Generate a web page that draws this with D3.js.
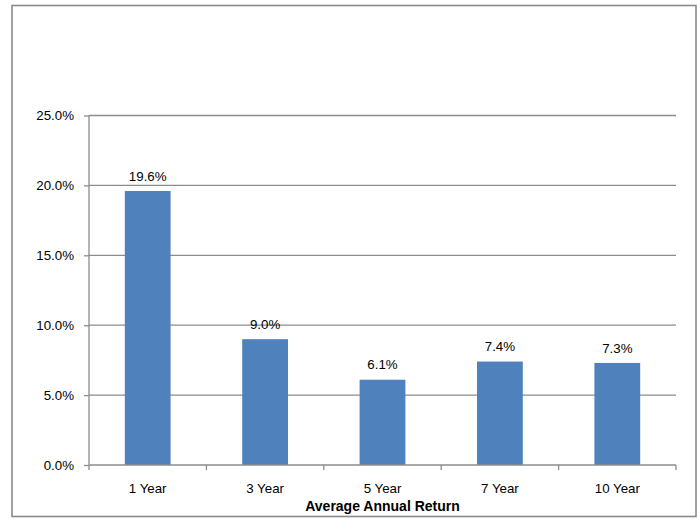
<!DOCTYPE html>
<html>
<head>
<meta charset="utf-8">
<script src="https://cdn.jsdelivr.net/npm/d3@7"></script>
<style>
  body { margin: 0; background: #fff; }
  svg text { font-family: "Liberation Sans", Arial, sans-serif; fill: #000; }
</style>
</head>
<body>
<div id="chart"></div>
<script>
// Chart data
const categories = ['1 Year', '3 Year', '5 Year', '7 Year', '10 Year'];
const returns = [19.6, 9.0, 6.1, 7.4, 7.3];
const yTicks = [0, 5, 10, 15, 20, 25];
const xTitle = 'Average Annual Return';

const width = 700;
const height = 519;
const plot = { left: 89, right: 676, top: 115.5, bottom: 465 };

const svg = d3.select('#chart')
  .append('svg')
  .attr('width', width)
  .attr('height', height);

// Outer border
svg.append('rect')
  .attr('x', 12)
  .attr('y', 5.5)
  .attr('width', 684)
  .attr('height', 511)
  .attr('fill', '#fff')
  .attr('stroke', '#8a8a8a')
  .attr('stroke-width', 1.6);

const x = d3.scaleBand()
  .domain(categories)
  .range([plot.left, plot.right])
  .paddingInner(0.61)
  .paddingOuter(0.305);

const y = d3.scaleLinear()
  .domain([0, 25])
  .range([plot.bottom, plot.top]);

// Gridlines
svg.append('g')
  .selectAll('line')
  .data(yTicks.filter(d => d > 0))
  .enter()
  .append('line')
  .attr('x1', plot.left)
  .attr('x2', plot.right)
  .attr('y1', d => y(d))
  .attr('y2', d => y(d))
  .attr('stroke', '#8c8c8c')
  .attr('stroke-width', 1.3);

// Bars
svg.append('g')
  .selectAll('rect')
  .data(returns)
  .enter()
  .append('rect')
  .attr('x', (d, i) => x(categories[i]))
  .attr('y', d => y(d))
  .attr('width', x.bandwidth())
  .attr('height', d => y(0) - y(d))
  .attr('fill', '#4f81bd');

// Value labels
svg.append('g')
  .selectAll('text')
  .data(returns)
  .enter()
  .append('text')
  .attr('x', (d, i) => x(categories[i]) + x.bandwidth() / 2)
  .attr('y', d => y(d) - 15)
  .attr('dy', '0.35em')
  .attr('text-anchor', 'middle')
  .style('font-size', '13.3px')
  .text(d => d.toFixed(1) + '%');

// Y axis
const yAxis = svg.append('g')
  .attr('transform', `translate(${plot.left},0)`)
  .call(d3.axisLeft(y).tickValues(yTicks).tickSize(5).tickPadding(10)
    .tickFormat(d => d.toFixed(1) + '%'));
yAxis.selectAll('line, path').attr('stroke', '#8c8c8c').attr('stroke-width', 1.3);
yAxis.select('.domain').attr('d', `M0,${plot.top}V${plot.bottom}`);
yAxis.selectAll('text').style('font-size', '13.3px').style('font-family', null).attr('fill', '#000');

// X axis with ticks at category boundaries
const xAxis = svg.append('g')
  .attr('transform', `translate(0,${plot.bottom})`);
xAxis.append('line')
  .attr('x1', plot.left)
  .attr('x2', plot.right)
  .attr('stroke', '#8c8c8c')
  .attr('stroke-width', 1.3);
const step = x.step();
xAxis.selectAll('.bound')
  .data(d3.range(categories.length + 1))
  .enter()
  .append('line')
  .attr('class', 'bound')
  .attr('x1', i => plot.left + i * step)
  .attr('x2', i => plot.left + i * step)
  .attr('y1', 0)
  .attr('y2', 5)
  .attr('stroke', '#8c8c8c')
  .attr('stroke-width', 1.3);
xAxis.selectAll('.cat')
  .data(categories)
  .enter()
  .append('text')
  .attr('class', 'cat')
  .attr('x', d => x(d) + x.bandwidth() / 2)
  .attr('y', 23)
  .attr('dy', '0.35em')
  .attr('text-anchor', 'middle')
  .style('font-size', '13.3px')
  .text(d => d);

// X axis title
svg.append('text')
  .attr('x', (plot.left + plot.right) / 2)
  .attr('y', 506)
  .attr('dy', '0.35em')
  .attr('text-anchor', 'middle')
  .style('font-size', '14px')
  .style('font-weight', 'bold')
  .text(xTitle);
</script>
</body>
</html>
